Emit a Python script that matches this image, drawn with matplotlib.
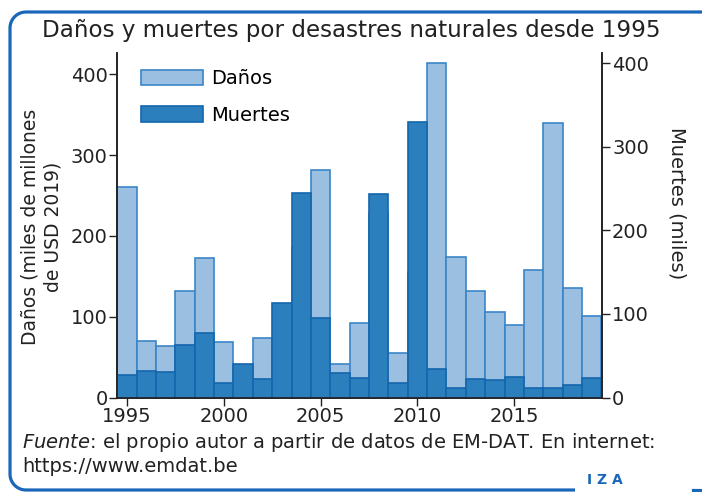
import numpy as np
import matplotlib.pyplot as plt
from matplotlib.patches import Patch
from matplotlib.lines import Line2D

plt.rcParams["font.family"] = ["DejaVu Sans"]
plt.rcParams["mathtext.fontset"] = "custom"
plt.rcParams["mathtext.it"] = "DejaVu Sans:italic"
plt.rcParams["mathtext.rm"] = "DejaVu Sans"

# Data
years = list(range(1995, 2020))
danos = [260, 70, 64, 132, 172, 69, 30, 74, 60, 186, 282, 42, 92, 228, 55,
         155, 414, 174, 132, 106, 90, 158, 340, 136, 101]
muertes = [27.5, 32, 30.7, 63, 77, 17, 40, 22, 113, 245, 95, 29, 23, 243, 17,
           330, 34, 12, 22, 21, 25, 11, 12, 15.5, 23]

light = "#9bbfe0"
light_edge = "#3a86c8"
dark = "#2b7fbd"
dark_edge = "#1466ad"
frame_blue = "#1a66b8"
text_col = "#222222"

W, H = 702, 492
fig = plt.figure(figsize=(W / 100, H / 100), dpi=100)
ax = fig.add_axes([0.167, 0.192, 0.691, 0.700])
ax2 = ax.twinx()

ax.bar(years, danos, width=1.0, color=light, edgecolor=light_edge, linewidth=1.2)
ax2.bar(years, muertes, width=1.0, color=dark, edgecolor=dark_edge, linewidth=1.2)

ax.set_xlim(1994.5, 2019.55)
ax.set_ylim(0, 426)
ax2.set_ylim(0, 412)
ax.set_xticks([1995, 2000, 2005, 2010, 2015])
ax.set_yticks([0, 100, 200, 300, 400])
ax2.set_yticks([0, 100, 200, 300, 400])

for a in (ax, ax2):
    a.spines["top"].set_visible(False)
    for s in a.spines.values():
        s.set_color(text_col)
        s.set_linewidth(1.2)
    a.tick_params(labelsize=14, length=6, width=1.0, color=text_col,
                  labelcolor=text_col, pad=1)

# Axis titles
fig.text(41.5 / W, 1 - 227 / H, "Daños (miles de millones\nde USD 2019)",
         rotation=90, ha="center", va="center", multialignment="center",
         fontsize=13.5, color=text_col, linespacing=1.3)
fig.text(677 / W, 1 - 203 / H, "Muertes (miles)", rotation=270,
         ha="center", va="center", fontsize=14, color=text_col)

handles = [Patch(facecolor=light, edgecolor=light_edge, linewidth=1.2),
           Patch(facecolor=dark, edgecolor=dark_edge, linewidth=1.2)]
ax2.legend(handles, ["Daños", "Muertes"], loc="upper left", frameon=False,
           fontsize=14, handlelength=3.2, handleheight=0.85, labelspacing=0.9,
           handletextpad=0.4, borderaxespad=0, bbox_to_anchor=(0.033, 0.976))

fig.text(0.5, 0.938, "Daños y muertes por desastres naturales desde 1995",
         ha="center", va="center", fontsize=16.6, color=text_col)

fig.text(0.031, 0.100, "$\\it{Fuente}$: el propio autor a partir de datos de EM-DAT. En internet:",
         ha="left", va="center", fontsize=14, color=text_col)
fig.text(0.031, 0.051, "https://www.emdat.be",
         ha="left", va="center", fontsize=14, color=text_col)

# Rounded frame (open on the right, gap at the bottom for the logo), in pixels
r, x0, y0, y1 = 16, 10, 12, 490
t1 = np.linspace(np.pi / 2, np.pi, 20)
t2 = np.linspace(np.pi, 1.5 * np.pi, 20)
fx = np.concatenate([[W + 10], x0 + r + r * np.cos(t1), x0 + r + r * np.cos(t2), [575]])
fy = np.concatenate([[y0], y0 + r - r * np.sin(t1), y1 - r - r * np.sin(t2), [y1]])
fig.add_artist(Line2D(fx / W, 1 - fy / H, transform=fig.transFigure,
                      color=frame_blue, linewidth=2.3, solid_capstyle="butt"))
fig.add_artist(Line2D([693 / W, 1.02], [1 - y1 / H] * 2, transform=fig.transFigure,
                      color=frame_blue, linewidth=2.3))
fig.text(0.862, 0.024, "I Z A", ha="center", va="center", fontsize=10,
         fontweight="bold", color=frame_blue)

fig.savefig("out.png", dpi=100)
